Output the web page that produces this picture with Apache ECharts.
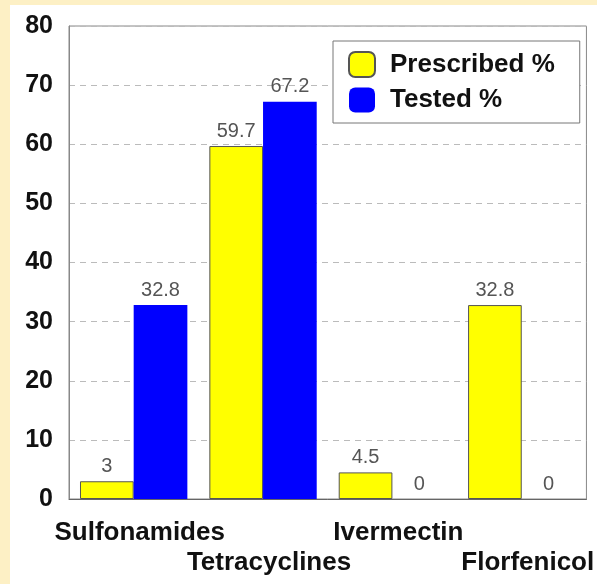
<!DOCTYPE html>
<html><head><meta charset="utf-8">
<script src="https://cdn.jsdelivr.net/npm/echarts@6/dist/echarts.min.js"></script>
<style>html,body{margin:0;padding:0;background:#FDF0C5;}#c{width:597px;height:584px;}</style>
</head><body><div id="c"></div>
<script>
const categories = ['Sulfonamides', 'Tetracyclines', 'Ivermectin', 'Florfenicol'];
const prescribed = [3, 59.7, 4.5, 32.8];
const tested = [32.8, 67.2, 0, 0];
const yTicks = [0, 10, 20, 30, 40, 50, 60, 70, 80];

const FONT = 'Liberation Sans, Arial, Helvetica, sans-serif';
const chart = echarts.init(document.getElementById('c'));
const labelStyle = {
  show: true, position: 'top', distance: 5,
  color: '#555', fontSize: 20, fontFamily: FONT
};
chart.setOption({
  backgroundColor: '#FDF0C5',
  animation: false,
  graphic: [{
    type: 'rect', z: -10, silent: true,
    shape: { x: 10, y: 5, width: 587, height: 579 },
    style: { fill: '#ffffff' }
  }],
  grid: { left: 69, top: 26, right: 9, bottom: 85, show: true, borderColor: '#888', borderWidth: 1, backgroundColor: 'transparent' },
  legend: {
    orient: 'vertical', left: 333, top: 41,
    padding: [10, 25, 10, 15],
    borderColor: '#777', borderWidth: 1, backgroundColor: '#fff',
    itemWidth: 26, itemHeight: 25, itemGap: 9,
    icon: 'roundRect',
    textStyle: { fontSize: 26, fontWeight: 'bold', color: '#111', fontFamily: FONT, padding: [0, 0, 0, 10], width: 170 },
    data: ['Prescribed %', 'Tested %']
  },
  xAxis: {
    type: 'category', data: categories,
    axisLine: { show: true, lineStyle: { color: '#666' } },
    axisTick: { show: false },
    axisLabel: {
      interval: 0, margin: 19, color: '#111', fontSize: 26, fontWeight: 'bold',
      fontFamily: FONT, lineHeight: 30, padding: [0, 0, 0, 12],
      formatter: (v, i) => (i % 2 === 1 ? '\n' + v : v)
    }
  },
  yAxis: {
    type: 'value', min: yTicks[0], max: yTicks[yTicks.length - 1], interval: 10,
    axisLine: { show: true, lineStyle: { color: '#888' } },
    axisTick: { show: false },
    axisLabel: { margin: 16, color: '#111', fontSize: 25, fontWeight: 'bold', fontFamily: FONT },
    splitLine: { show: true, lineStyle: { color: '#bbb', type: [6, 5], width: 1 } }
  },
  series: [
    {
      name: 'Prescribed %', type: 'bar', data: prescribed,
      barGap: '0%', barCategoryGap: '17%',
      itemStyle: { color: '#FFFF00', borderColor: '#555', borderWidth: 1 },
      label: labelStyle
    },
    {
      name: 'Tested %', type: 'bar', data: tested,
      itemStyle: { color: '#0000FF', borderWidth: 0 },
      label: labelStyle
    }
  ]
});
</script></body></html>
